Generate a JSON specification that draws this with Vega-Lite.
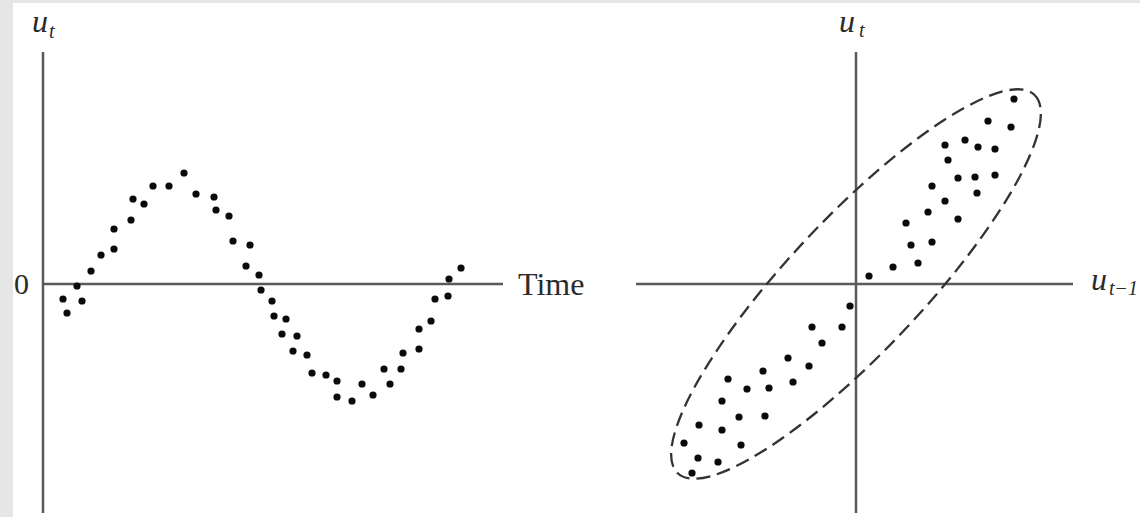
{
  "$schema": "https://vega.github.io/schema/vega-lite/v6.json",
  "background": "#e6e6e6",
  "padding": {"left": 13, "top": 3, "right": 0, "bottom": 0},
  "autosize": {"type": "pad"},
  "spacing": 0,
  "bounds": "flush",
  "config": {"view": {"stroke": null, "fill": "white"}},
  "resolve": {"scale": {"x": "independent", "y": "independent"}},
  "hconcat": [
    {
      "width": 587,
      "height": 514,
      "layer": [
        {
          "data": {"values": [
            {"t": 0, "t2": 46, "u": 0, "u2": 0},
            {"t": 0, "t2": 0, "u": 4.64, "u2": -4.58}
          ]},
          "mark": {"type": "rule", "color": "#5a5a5a", "strokeWidth": 2.5},
          "encoding": {
            "x": {"field": "t", "type": "quantitative", "scale": {"domain": [-3.0, 55.7], "nice": false, "zero": false}, "axis": null},
            "x2": {"field": "t2"},
            "y": {"field": "u", "type": "quantitative", "scale": {"domain": [-4.66, 5.62], "nice": false, "zero": false}, "axis": null},
            "y2": {"field": "u2"}
          }
        },
        {
          "data": {"values": [
            {"t": 2.0, "u": -0.30}, {"t": 2.4, "u": -0.58}, {"t": 3.4, "u": -0.04}, {"t": 3.9, "u": -0.34},
            {"t": 4.8, "u": 0.26}, {"t": 5.8, "u": 0.58}, {"t": 7.1, "u": 0.70}, {"t": 7.1, "u": 1.10},
            {"t": 8.8, "u": 1.28}, {"t": 9.0, "u": 1.70}, {"t": 10.1, "u": 1.60}, {"t": 11.0, "u": 1.96},
            {"t": 12.6, "u": 1.96}, {"t": 14.1, "u": 2.22}, {"t": 15.3, "u": 1.80}, {"t": 17.1, "u": 1.74},
            {"t": 17.3, "u": 1.48}, {"t": 18.6, "u": 1.36}, {"t": 19.0, "u": 0.86}, {"t": 20.7, "u": 0.78},
            {"t": 20.3, "u": 0.36}, {"t": 21.6, "u": 0.18}, {"t": 21.8, "u": -0.12}, {"t": 22.9, "u": -0.34},
            {"t": 23.1, "u": -0.64}, {"t": 24.3, "u": -0.70}, {"t": 23.9, "u": -1.00}, {"t": 25.4, "u": -1.04},
            {"t": 25.0, "u": -1.34}, {"t": 26.4, "u": -1.42}, {"t": 26.9, "u": -1.78}, {"t": 28.3, "u": -1.82},
            {"t": 29.4, "u": -1.94}, {"t": 29.4, "u": -2.26}, {"t": 30.9, "u": -2.34}, {"t": 31.9, "u": -2.00},
            {"t": 33.0, "u": -2.22}, {"t": 34.1, "u": -1.70}, {"t": 34.7, "u": -2.00}, {"t": 35.8, "u": -1.70},
            {"t": 36.0, "u": -1.38}, {"t": 37.6, "u": -1.30}, {"t": 37.6, "u": -0.90}, {"t": 38.8, "u": -0.74},
            {"t": 39.2, "u": -0.30}, {"t": 40.5, "u": -0.24}, {"t": 40.6, "u": 0.10}, {"t": 41.8, "u": 0.32}
          ]},
          "mark": {"type": "circle", "size": 52, "color": "#0a0a0a", "opacity": 1},
          "encoding": {
            "x": {"field": "t", "type": "quantitative"},
            "y": {"field": "u", "type": "quantitative"}
          }
        },
        {
          "data": {"values": [
            {"t": -1.4, "u": -0.2, "label": "0"}
          ]},
          "mark": {"type": "text", "font": "Liberation Serif", "fontSize": 30, "color": "#2a2a2a", "align": "right", "baseline": "alphabetic"},
          "encoding": {
            "x": {"field": "t", "type": "quantitative"},
            "y": {"field": "u", "type": "quantitative"},
            "text": {"field": "label"}
          }
        },
        {
          "data": {"values": [
            {"t": 47.5, "u": -0.22, "label": "Time"}
          ]},
          "mark": {"type": "text", "font": "Liberation Serif", "fontSize": 32, "color": "#2a2a2a", "align": "left", "baseline": "alphabetic"},
          "encoding": {
            "x": {"field": "t", "type": "quantitative"},
            "y": {"field": "u", "type": "quantitative"},
            "text": {"field": "label"}
          }
        },
        {
          "data": {"values": [
            {"t": -1.1, "u": 5.04, "label": "u"}
          ]},
          "mark": {"type": "text", "font": "Liberation Serif", "fontSize": 32, "fontStyle": "italic", "color": "#2a2a2a", "align": "left", "baseline": "alphabetic"},
          "encoding": {
            "x": {"field": "t", "type": "quantitative"},
            "y": {"field": "u", "type": "quantitative"},
            "text": {"field": "label"}
          }
        },
        {
          "data": {"values": [
            {"t": 0.6, "u": 4.92, "label": "t"}
          ]},
          "mark": {"type": "text", "font": "Liberation Serif", "fontSize": 20, "fontStyle": "italic", "color": "#2a2a2a", "align": "left", "baseline": "alphabetic"},
          "encoding": {
            "x": {"field": "t", "type": "quantitative"},
            "y": {"field": "u", "type": "quantitative"},
            "text": {"field": "label"}
          }
        }
      ]
    },
    {
      "width": 540,
      "height": 514,
      "layer": [
        {
          "data": {"values": [
            {"a": -4.4, "a2": 4.34, "b": 0, "b2": 0},
            {"a": 0, "a2": 0, "b": 4.64, "b2": -4.58}
          ]},
          "mark": {"type": "rule", "color": "#5a5a5a", "strokeWidth": 2.5},
          "encoding": {
            "x": {"field": "a", "type": "quantitative", "scale": {"domain": [-5.12, 5.68], "nice": false, "zero": false}, "axis": null},
            "x2": {"field": "a2"},
            "y": {"field": "b", "type": "quantitative", "scale": {"domain": [-4.66, 5.62], "nice": false, "zero": false}, "axis": null},
            "y2": {"field": "b2"}
          }
        },
        {
          "data": {"values": [
            {"a": 0, "b": 0}
          ]},
          "mark": {
            "type": "point",
            "shape": "M 1 0 C 1 0.142 0.5523 0.257 0 0.257 C -0.5523 0.257 -1 0.142 -1 0 C -1 -0.142 -0.5523 -0.257 0 -0.257 C 0.5523 -0.257 1 -0.142 1 0 Z",
            "size": 270400,
            "angle": 313.3,
            "filled": false,
            "stroke": "#333",
            "strokeWidth": 2.3,
            "strokeDash": [14, 7],
            "opacity": 1
          },
          "encoding": {
            "x": {"field": "a", "type": "quantitative"},
            "y": {"field": "b", "type": "quantitative"}
          }
        },
        {
          "data": {"values": [
            {"a": -0.12, "b": -0.44}, {"a": -0.88, "b": -0.86}, {"a": -0.28, "b": -0.86}, {"a": -0.68, "b": -1.18},
            {"a": -1.36, "b": -1.48}, {"a": -0.94, "b": -1.64}, {"a": -1.86, "b": -1.74}, {"a": -2.56, "b": -1.90},
            {"a": -1.26, "b": -1.96}, {"a": -2.18, "b": -2.10}, {"a": -1.74, "b": -2.08}, {"a": -2.68, "b": -2.34},
            {"a": -2.34, "b": -2.66}, {"a": -1.82, "b": -2.64}, {"a": -3.14, "b": -2.82}, {"a": -2.68, "b": -2.92},
            {"a": -3.44, "b": -3.18}, {"a": -2.30, "b": -3.22}, {"a": -3.16, "b": -3.48}, {"a": -2.76, "b": -3.56},
            {"a": -3.28, "b": -3.78},
            {"a": 3.16, "b": 3.70}, {"a": 2.64, "b": 3.26}, {"a": 3.10, "b": 3.14}, {"a": 2.18, "b": 2.88},
            {"a": 1.78, "b": 2.78}, {"a": 2.44, "b": 2.74}, {"a": 2.78, "b": 2.70}, {"a": 1.84, "b": 2.48},
            {"a": 2.04, "b": 2.12}, {"a": 2.38, "b": 2.14}, {"a": 2.78, "b": 2.18}, {"a": 1.52, "b": 1.96},
            {"a": 2.42, "b": 1.82}, {"a": 1.78, "b": 1.66}, {"a": 1.44, "b": 1.44}, {"a": 2.04, "b": 1.30},
            {"a": 1.00, "b": 1.22}, {"a": 1.10, "b": 0.78}, {"a": 1.52, "b": 0.84}, {"a": 0.74, "b": 0.34},
            {"a": 1.24, "b": 0.42}, {"a": 0.26, "b": 0.16}
          ]},
          "mark": {"type": "circle", "size": 52, "color": "#0a0a0a", "opacity": 1},
          "encoding": {
            "x": {"field": "a", "type": "quantitative"},
            "y": {"field": "b", "type": "quantitative"}
          }
        },
        {
          "data": {"values": [
            {"a": -0.34, "b": 5.04, "label": "u"},
            {"a": 4.70, "b": -0.12, "label": "u"}
          ]},
          "mark": {"type": "text", "font": "Liberation Serif", "fontSize": 32, "fontStyle": "italic", "color": "#2a2a2a", "align": "left", "baseline": "alphabetic"},
          "encoding": {
            "x": {"field": "a", "type": "quantitative"},
            "y": {"field": "b", "type": "quantitative"},
            "text": {"field": "label"}
          }
        },
        {
          "data": {"values": [
            {"a": 0.06, "b": 4.94, "label": "t"},
            {"a": 5.06, "b": -0.22, "label": "t−1"}
          ]},
          "mark": {"type": "text", "font": "Liberation Serif", "fontSize": 20, "fontStyle": "italic", "color": "#2a2a2a", "align": "left", "baseline": "alphabetic"},
          "encoding": {
            "x": {"field": "a", "type": "quantitative"},
            "y": {"field": "b", "type": "quantitative"},
            "text": {"field": "label"}
          }
        }
      ]
    }
  ]
}
